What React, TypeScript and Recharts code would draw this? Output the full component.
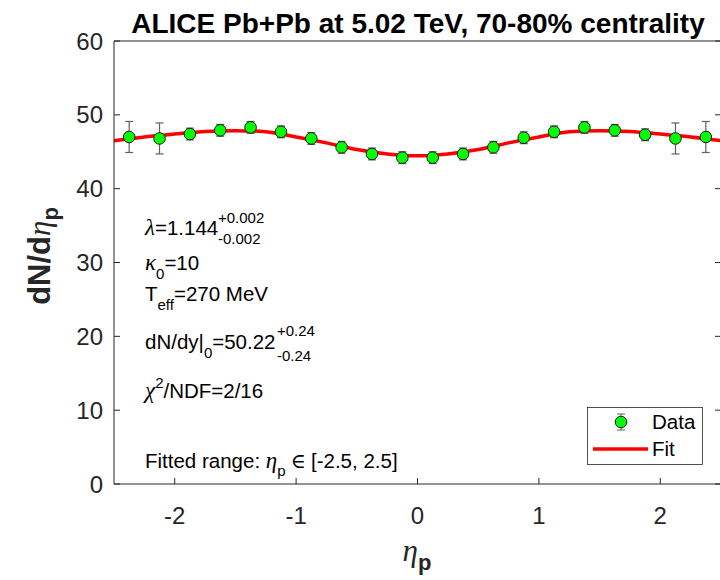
import {
  ComposedChart,
  Scatter,
  Line,
  XAxis,
  YAxis,
  ErrorBar,
  Legend,
} from 'recharts';

// measured pseudorapidity density, 70-80% centrality
const etaBins = [
  -2.375, -2.125, -1.875, -1.625, -1.375, -1.125, -0.875, -0.625, -0.375, -0.125,
  0.125, 0.375, 0.625, 0.875, 1.125, 1.375, 1.625, 1.875, 2.125, 2.375,
];
const dNdEta = [
  47.0, 46.8, 47.4, 47.9, 48.3, 47.7, 46.8, 45.6, 44.7, 44.2,
  44.2, 44.7, 45.6, 46.9, 47.7, 48.3, 47.9, 47.3, 46.8, 47.0,
];
const dNdEtaErr = [
  2.1, 2.1, 0.8, 0.8, 0.8, 0.8, 0.8, 0.8, 0.8, 0.8,
  0.8, 0.8, 0.8, 0.8, 0.8, 0.8, 0.8, 0.8, 2.1, 2.1,
];

// fitted curve
const fitEta = [
  -2.5, -2.25, -2.0, -1.75, -1.5, -1.25, -1.0, -0.75, -0.5, -0.25, 0,
  0.25, 0.5, 0.75, 1.0, 1.25, 1.5, 1.75, 2.0, 2.25, 2.5,
];
const fitValues = [
  46.5, 47.0, 47.4, 47.75, 47.86, 47.7, 47.0, 46.2, 45.3, 44.7, 44.45,
  44.7, 45.3, 46.2, 47.0, 47.7, 47.86, 47.75, 47.4, 47.0, 46.5,
];

const xTicks = [-2, -1, 0, 1, 2];
const yTicks = [0, 10, 20, 30, 40, 50, 60];

const points = etaBins.map((eta, i) => ({ eta, y: dNdEta[i], err: dNdEtaErr[i] }));
const fitCurve = fitEta.map((eta, i) => ({ eta, fit: fitValues[i] }));

const SANS = "'Liberation Sans', Arial, sans-serif";
const SERIF = "'Liberation Serif', 'DejaVu Serif', serif";
const AXIS = '#262626';
const tickFont = { fontSize: 24, fill: AXIS, fontFamily: SANS };

const Marker = (props: any) => (
  <circle cx={props.cx} cy={props.cy} r={5.8} fill="#00ff00" stroke="#1a1a1a" strokeWidth={1} />
);

const renderLegend = () => (
  <svg width={116} height={58} style={{ display: 'block' }}>
    <rect x={0.5} y={0.5} width={115} height={57} fill="#fff" stroke={AXIS} strokeWidth={0.8} />
    <line x1={34} y1={7} x2={34} y2={23} stroke="#606060" />
    <line x1={30} y1={7} x2={38} y2={7} stroke="#606060" />
    <line x1={30} y1={23} x2={38} y2={23} stroke="#606060" />
    <circle cx={34} cy={15} r={5.8} fill="#00ff00" stroke="#1a1a1a" />
    <text x={65} y={22} fontSize={20.5} fontFamily={SANS} fill="#000">Data</text>
    <line x1={6} y1={42} x2={61} y2={42} stroke="#ff0000" strokeWidth={3.5} />
    <text x={65} y={49} fontSize={20.5} fontFamily={SANS} fill="#000">Fit</text>
  </svg>
);

const noLabel = () => <g />;

export default function App() {
  return (
    <div style={{ position: 'absolute', left: 0, top: 0, width: 720, height: 580, overflow: 'hidden', background: '#fff' }}>
      <ComposedChart width={724} height={580} margin={{ top: 40, right: 2, bottom: 46, left: 54 }}>
        <XAxis
          dataKey="eta"
          type="number"
          domain={[-2.5, 2.5]}
          ticks={xTicks}
          height={50}
          tickSize={-6}
          tickMargin={29}
          stroke={AXIS}
          tick={tickFont}
          allowDataOverflow
        />
        <XAxis
          xAxisId="top"
          orientation="top"
          type="number"
          domain={[-2.5, 2.5]}
          ticks={xTicks}
          height={1}
          tickSize={-6}
          stroke={AXIS}
          tick={noLabel}
          allowDataOverflow
        />
        <YAxis
          type="number"
          domain={[0, 60]}
          ticks={yTicks}
          width={60}
          tickSize={-6}
          tickMargin={17}
          stroke={AXIS}
          tick={tickFont}
          allowDataOverflow
        />
        <YAxis
          yAxisId="right"
          orientation="right"
          type="number"
          domain={[0, 60]}
          ticks={yTicks}
          width={1}
          tickSize={-6}
          stroke={AXIS}
          tick={noLabel}
          allowDataOverflow
        />
        <Line
          data={fitCurve}
          dataKey="fit"
          type="monotone"
          stroke="#ff0000"
          strokeWidth={3.5}
          dot={false}
          activeDot={false}
          isAnimationActive={false}
        />
        <Scatter data={points} dataKey="y" shape={Marker} isAnimationActive={false}>
          <ErrorBar dataKey="err" direction="y" width={4} stroke="#606060" strokeWidth={1.2} />
        </Scatter>
        <Legend
          layout="horizontal"
          verticalAlign="middle"
          align="center"
          content={renderLegend}
          wrapperStyle={{ left: 587, top: 407, width: 116, height: 58 }}
        />

        {/* title */}
        <text x={418} y={33} textAnchor="middle" fontFamily={SANS} fontWeight="bold" fontSize={28} fill="#000">
          ALICE Pb+Pb at 5.02 TeV, 70-80% centrality
        </text>

        {/* axis titles */}
        <text transform="translate(50, 256) rotate(-90)" textAnchor="middle" fontFamily={SANS} fontWeight="bold" fontSize={31} fill={AXIS}>
          dN/d<tspan fontFamily={SERIF} fontStyle="italic" fontWeight="normal">η</tspan>
          <tspan dy={8} fontSize={22}>p</tspan>
        </text>
        <text x={417} y={561} textAnchor="middle" fill={AXIS}>
          <tspan fontFamily={SERIF} fontStyle="italic" fontSize={31}>η</tspan>
          <tspan dy={9} fontFamily={SANS} fontWeight="bold" fontSize={22}>p</tspan>
        </text>

        {/* fit parameters */}
        <g fontFamily={SANS} fontSize={20.5} fill="#000">
          <text x={145} y={235}>
            <tspan fontFamily={SERIF} fontStyle="italic" fontSize={23}>λ</tspan>=1.144
          </text>
          <text x={218} y={223} fontSize={15}>+0.002</text>
          <text x={218} y={244} fontSize={15}>-0.002</text>

          <text x={145} y={270}>
            <tspan fontFamily={SERIF} fontStyle="italic" fontSize={23}>κ</tspan>
            <tspan dy={9} fontSize={15}>0</tspan>
            <tspan dy={-9}>=10</tspan>
          </text>

          <text x={145} y={301}>
            T<tspan dy={9} fontSize={15}>eff</tspan>
            <tspan dy={-9}>=270 MeV</tspan>
          </text>

          <text x={145} y={349}>
            dN/dy|<tspan dy={9} fontSize={15}>0</tspan>
            <tspan dy={-9}>=50.22</tspan>
          </text>
          <text x={277} y={336} fontSize={15}>+0.24</text>
          <text x={277} y={361} fontSize={15}>-0.24</text>

          <text x={145} y={398}>
            <tspan fontFamily={SERIF} fontStyle="italic" fontSize={23}>χ</tspan>
            <tspan dy={-10} fontSize={15}>2</tspan>
            <tspan dy={10}>/NDF=2/16</tspan>
          </text>

          <text x={145} y={468}>
            Fitted range: <tspan fontFamily={SERIF} fontStyle="italic" fontSize={23}>η</tspan>
            <tspan dy={8} fontSize={15}>p</tspan>
            <tspan dy={-8} fontFamily={SERIF}> ∈ </tspan>[-2.5, 2.5]
          </text>
        </g>
      </ComposedChart>
    </div>
  );
}
